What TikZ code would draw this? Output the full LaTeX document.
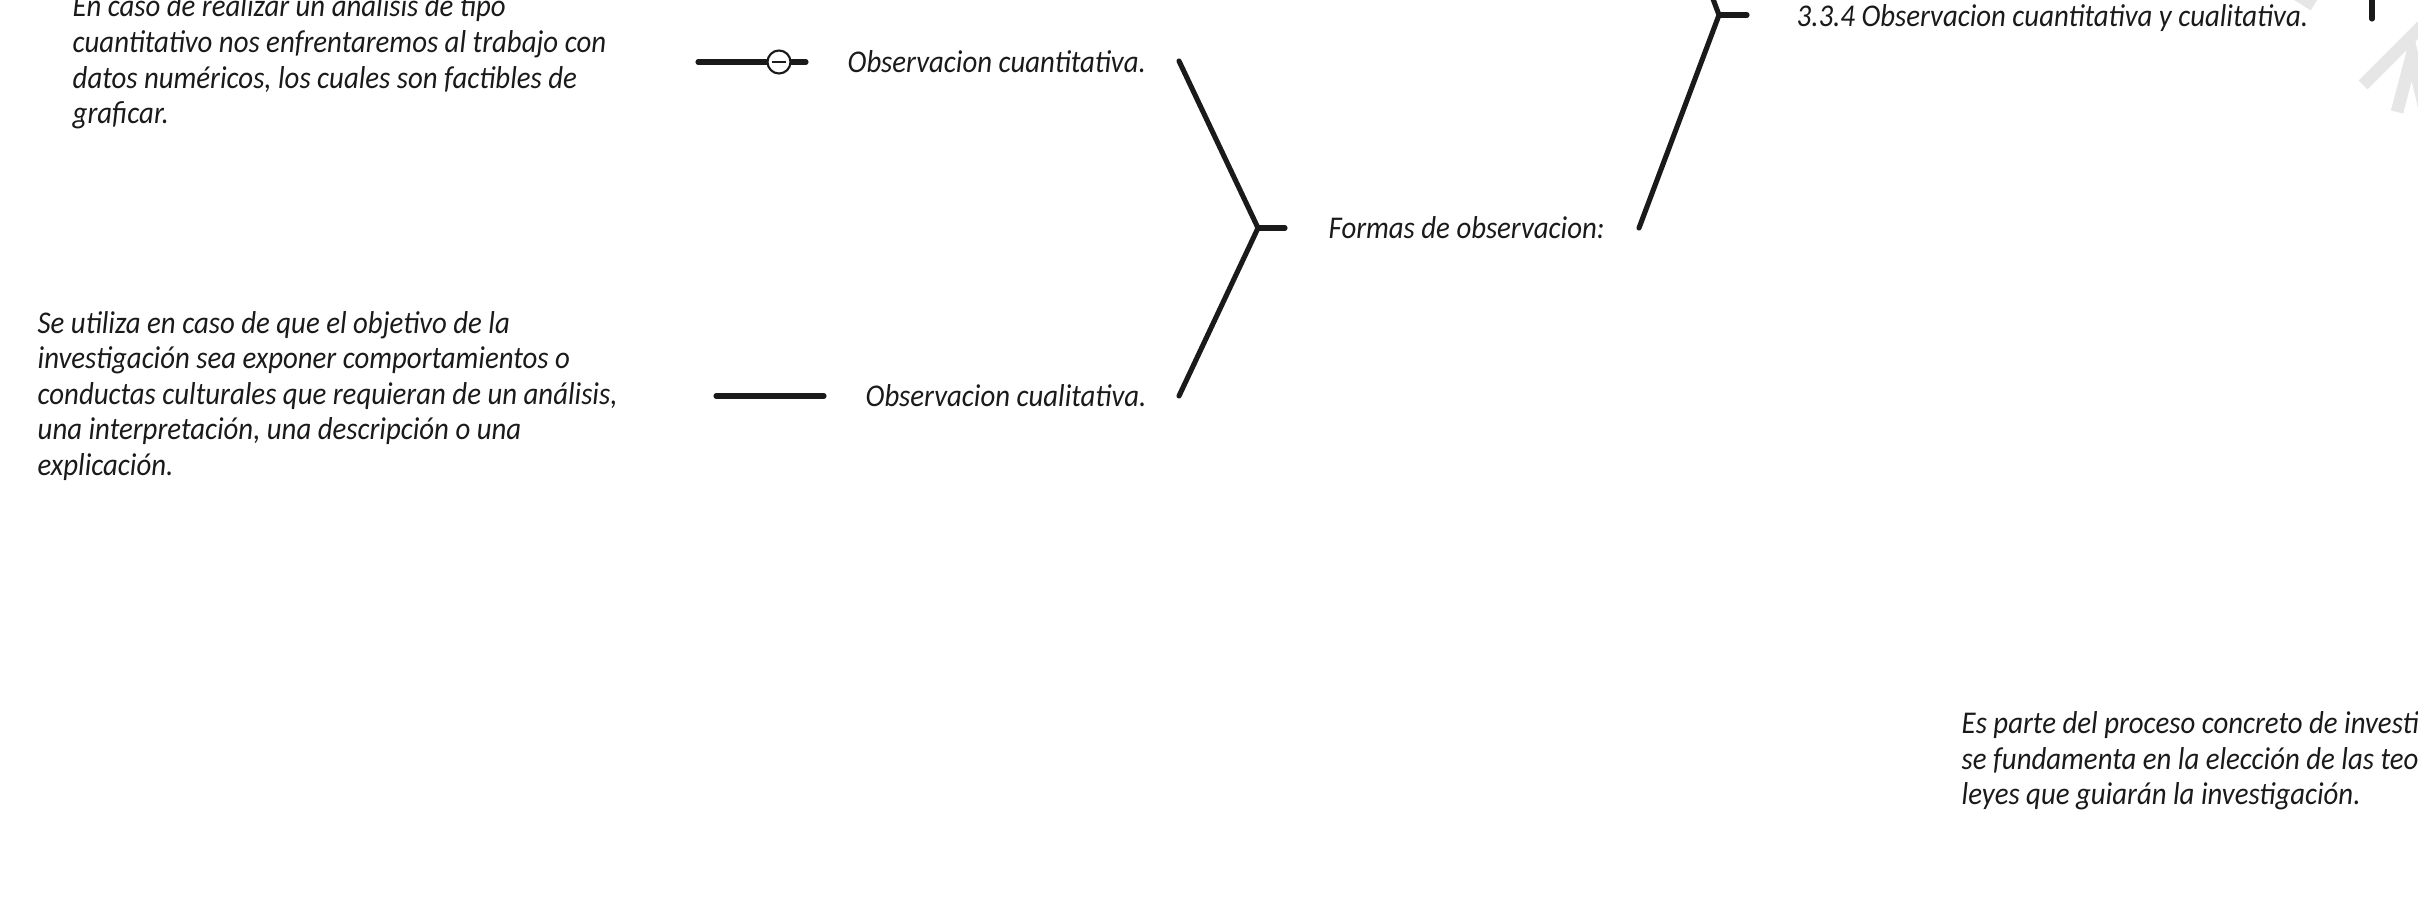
\documentclass[tikz,border=0pt]{standalone}
\usepackage{fontspec}
\setmainfont{Carlito}[FakeStretch=0.91]
\definecolor{ink}{HTML}{1A1A1A}
\definecolor{wmgray}{HTML}{E6E6E6}
\begin{document}
\begin{tikzpicture}[x=0.01cm,y=-0.01cm,
        every node/.style={inner sep=0pt,anchor=west,text=ink,font=\itshape\fontsize{9}{10.1}\selectfont},
        para/.style={align=left},
        arm/.style={draw=ink,line width=1.45pt,line cap=round,line join=round}]
    \useasboundingbox (0,0) rectangle (2418,906);
    \clip (0,0) rectangle (2418,906);
    % watermark
    \draw[wmgray,line width=3.6pt] (2363,85) -- (2440,8);
    \draw[wmgray,line width=3.6pt] (2397,112) -- (2412,55) -- (2425,110);
    \draw[wmgray,line width=3.6pt] (2290,-10) -- (2314,5);
    % texts
    \node[para] (cuantdesc) at (72,62) {En caso de realizar un análisis de tipo\\cuantitativo nos enfrentaremos al trabajo con\\datos numéricos, los cuales son factibles de\\graficar.};
    \node[para] (cualdesc) at (37,396) {Se utiliza en caso de que el objetivo de la\\investigación sea exponer comportamientos o\\conductas culturales que requieran de un análisis,\\una interpretación, una descripción o una\\explicación.};
    \node[para] (metodo) at (1961,761) {Es parte del proceso concreto de investigación y\\se fundamenta en la elección de las teorías y\\leyes que guiarán la investigación.};
    \node (cuant) at (847,62) {Observacion cuantitativa.};
    \node (cual) at (865,396) {Observacion cualitativa.};
    \node (formas) at (1328,228) {Formas de observacion:};
    \node (titulo) at (1796,18) {3.3.4 Observacion cuantitativa y cualitativa.};
    % brackets
    \coordinate (fa) at (1179,61);
    \coordinate (fv) at (1258,228);
    \coordinate (fb) at (1179,396);
    \coordinate (fs) at (1285,228);
    \draw[arm] (fa) -- (fv) -- (fb);
    \draw[arm] (fv) -- (fs);
    \coordinate (ta) at (1639,-198);
    \coordinate (tv) at (1719,15);
    \coordinate (tb) at (1639,228);
    \coordinate (ts) at (1747,15);
    \draw[arm] (ta) -- (tv) -- (tb);
    \draw[arm] (tv) -- (ts);
    \coordinate (ra) at (2372,-20);
    \coordinate (rb) at (2372,19);
    \draw[arm] (ra) -- (rb);
    % leaf lines
    \coordinate (qa) at (698,62);
    \coordinate (qb) at (806,62);
    \coordinate (la) at (716,396);
    \coordinate (lb) at (824,396);
    \draw[arm] (qa) -- (qb);
    \draw[arm] (la) -- (lb);
    \node[circle,draw=ink,fill=white,line width=0.6pt,minimum size=0.23cm,anchor=center] (qknob) at (779,62) {};
    \draw[ink,line width=0.6pt] ([xshift=-0.07cm]qknob.center) -- ([xshift=0.07cm]qknob.center);
\end{tikzpicture}
\end{document}
